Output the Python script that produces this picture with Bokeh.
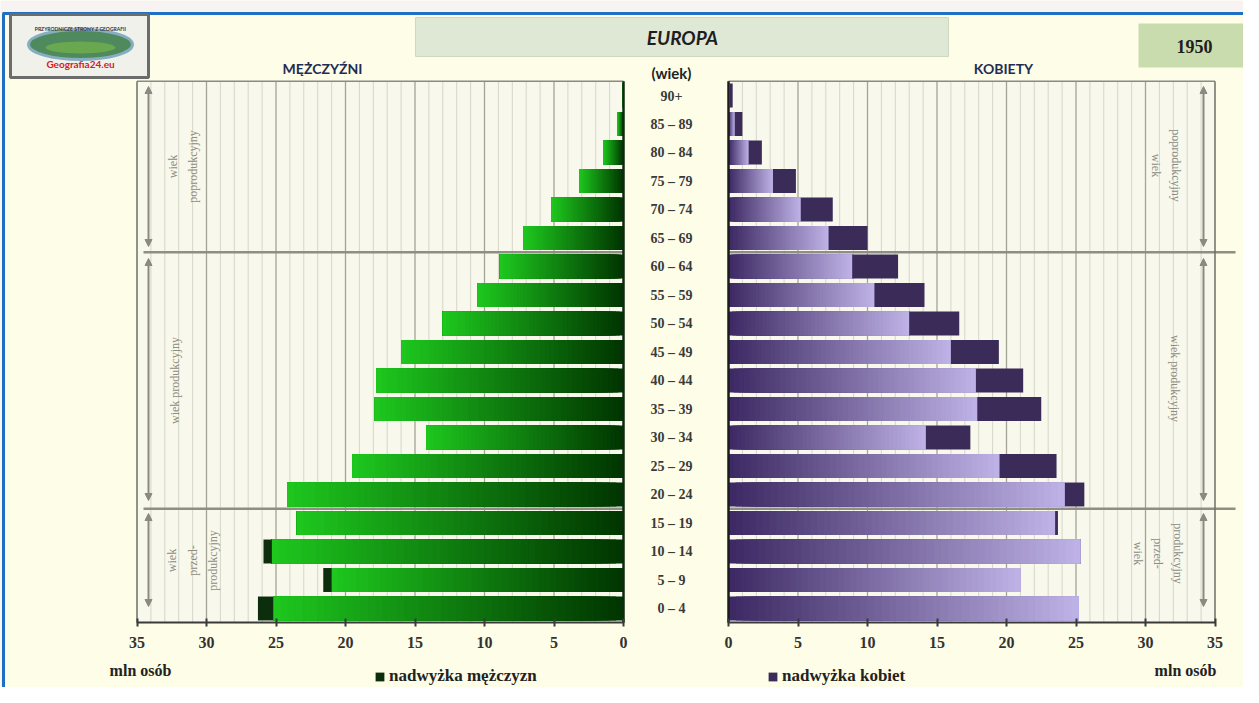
import math
from bokeh.plotting import figure
from bokeh.models import (ColumnDataSource, LinearAxis, FixedTicker, CustomJSTickFormatter,
                          Range1d, Arrow, NormalHead, Legend, LegendItem)
from bokeh.core.properties import value
from bokeh.embed import file_html
from bokeh.resources import INLINE

# ---------------- data ----------------
ages = ["0 – 4", "5 – 9", "10 – 14", "15 – 19", "20 – 24", "25 – 29", "30 – 34",
        "35 – 39", "40 – 44", "45 – 49", "50 – 54", "55 – 59", "60 – 64", "65 – 69",
        "70 – 74", "75 – 79", "80 – 84", "85 – 89", "90+"]
men = [26.3, 21.6, 25.9, 23.5, 24.2, 19.5, 14.2, 17.9, 17.8, 16.0, 13.0, 10.5, 8.9,
       7.2, 5.2, 3.2, 1.45, 0.45, 0.1]
women = [25.2, 21.0, 25.3, 23.7, 25.6, 23.6, 17.4, 22.5, 21.2, 19.45, 16.6, 14.1, 12.2,
         10.0, 7.5, 4.85, 2.4, 1.0, 0.3]
x_ticks = [0, 5, 10, 15, 20, 25, 30, 35]
x_max = 35

# ---------------- geometry helpers (picture pixels -> data) ----------------
W, H = 1243, 687
SC = 13.9          # px per million
CX = 675.5         # x of the centre between panels
G = 52.5 / SC      # half gap between panels in data units
RY = 28.5          # px per age row
CY = 608           # y of row 0 centre


def X(px):
    return (px - CX) / SC


def Y(py):
    return (CY - py) / RY


def L(v):
    return -(v + G)


def R(v):
    return v + G


p = figure(width=W, height=H, output_backend="svg", toolbar_location=None,
           x_range=Range1d(X(0), X(W)), y_range=Range1d(Y(H), Y(0)),
           x_axis_type=None, y_axis_type=None, min_border=0,
           outline_line_color=None, background_fill_color="#fdfde8",
           border_fill_color="#fdfde8")

# page header strip and blue border lines
p.quad(left=[X(0)], right=[X(W)], top=[Y(0)], bottom=[Y(12)],
       fill_color="#f8f3f3", line_color=None)
p.quad(left=[X(0)], right=[X(2)], top=[Y(0)], bottom=[Y(H)],
       fill_color="#f8f3f3", line_color=None)
p.segment(x0=[X(2), X(3)], y0=[Y(13), Y(13)], x1=[X(W), X(3)], y1=[Y(13), Y(H)],
          line_color="#1f6fc4", line_width=3)

# panel backgrounds
p.quad(left=[L(x_max), R(0)], right=[L(0), R(x_max)], bottom=-0.5, top=18.5,
       fill_color="#f8f8ec", line_color=None)

# grid lines
minor = [v for v in range(1, x_max) if v % 5]
major = [v for v in x_ticks if 0 < v < x_max]
mx = [L(v) for v in minor] + [R(v) for v in minor]
p.segment(x0=mx, y0=-0.5, x1=mx, y1=18.5, line_color="#d6d6c8", line_width=1)
Mx = [L(v) for v in major] + [R(v) for v in major]
p.segment(x0=Mx, y0=-0.5, x1=Mx, y1=18.5, line_color="#a3a396", line_width=1.3)

# group separator lines
p.segment(x0=[X(143), X(143), R(0), R(0)], y0=[12.5, 3.5, 12.5, 3.5],
          x1=[L(0), L(0), X(1235), X(1235)], y1=[12.5, 3.5, 12.5, 3.5],
          line_color="#8e8e84", line_width=2.5)


# ---------------- bars (gradient fills built in nested slices) ----------------
def mix(c0, c1, t):
    r = [round(a + (b - a) * t) for a, b in zip(c0, c1)]
    return "#%02x%02x%02x" % tuple(r)


G0, G1 = (0, 52, 0), (30, 200, 30)          # green: inner dark -> outer bright
P0, P1 = (60, 40, 98), (190, 178, 230)      # purple: inner dark -> outer light
N = 48
ml, mr, mc, wl, wr, wc, yy = [], [], [], [], [], [], []
for i, (m, w) in enumerate(zip(men, women)):
    base = min(m, w)
    for k in range(N):
        a = base * k / N
        t = (k + 0.5) / N
        ml.append(L(base)); mr.append(L(a)); mc.append(mix(G0, G1, t))
        wl.append(R(a)); wr.append(R(base)); wc.append(mix(P0, P1, t))
        yy.append(i)

BH = 0.84
p.hbar(y=yy, left=ml, right=mr, height=BH, fill_color=mc, line_color=None)
p.hbar(y=yy, left=wl, right=wr, height=BH, fill_color=wc, line_color=None)

mex = ColumnDataSource(dict(
    y=[i for i, (m, w) in enumerate(zip(men, women)) if m > w],
    left=[L(m) for m, w in zip(men, women) if m > w],
    right=[L(w) for m, w in zip(men, women) if m > w]))
wex = ColumnDataSource(dict(
    y=[i for i, (m, w) in enumerate(zip(men, women)) if w > m],
    left=[R(m) for m, w in zip(men, women) if w > m],
    right=[R(w) for m, w in zip(men, women) if w > m]))
r_mex = p.hbar(y="y", left="left", right="right", height=BH, source=mex,
               fill_color="#0c2e0c", line_color=None)
r_wex = p.hbar(y="y", left="left", right="right", height=BH, source=wex,
               fill_color="#3b2b58", line_color=None)

# panel borders
p.segment(x0=[L(x_max), R(0)], y0=[18.5, 18.5], x1=[L(0), R(x_max)], y1=[18.5, 18.5],
          line_color="#8a8a7e", line_width=1.5)
p.segment(x0=[L(x_max), R(x_max)], y0=[-0.5, -0.5], x1=[L(x_max), R(x_max)], y1=[18.5, 18.5],
          line_color="#6e6e64", line_width=1.5)
p.segment(x0=[L(0)], y0=[-0.5], x1=[L(0)], y1=[18.5], line_color="#0e2a0e", line_width=2.5)
p.segment(x0=[R(0)], y0=[-0.5], x1=[R(0)], y1=[18.5], line_color="#1c1c1c", line_width=2.5)

# ---------------- axes ----------------
fmt = CustomJSTickFormatter(code="return String(Math.round(Math.abs(tick) - %r));" % G)
for ticks, bounds in (([L(v) for v in x_ticks], (L(x_max), L(0))),
                      ([R(v) for v in x_ticks], (R(0), R(x_max)))):
    ax = LinearAxis(fixed_location=-0.5, bounds=bounds,
                    ticker=FixedTicker(ticks=ticks, minor_ticks=[]), formatter=fmt,
                    axis_line_color="#3a3a3a", axis_line_width=2,
                    major_tick_line_color="#3a3a3a", major_tick_line_width=2,
                    major_tick_in=4, major_tick_out=4, minor_tick_line_color=None,
                    major_label_standoff=10,
                    major_label_text_font="Liberation Serif",
                    major_label_text_font_style="bold",
                    major_label_text_font_size="16px",
                    major_label_text_color="#333333")
    p.add_layout(ax, "below")


# ---------------- texts ----------------
def txt(px, py, s, size, font="Lato", style="bold", color="#222222",
        align="center", angle=0.0):
    p.text(x=[X(px)], y=[Y(py)], text=[s], text_font=value(font),
           text_font_size=size, text_font_style=style, text_color=color,
           text_align=align, text_baseline="middle", angle=angle)


# age labels
p.text(x=[X(671)] * len(ages), y=list(range(len(ages))), text=ages,
       text_font=value("Liberation Serif"), text_font_size="14px",
       text_font_style="bold", text_color="#3a3a3a", text_align="center",
       text_baseline="middle")

# logo
p.quad(left=[X(10)], right=[X(148)], top=[Y(14)], bottom=[Y(77)],
       fill_color="#f1f1ec", line_color="#6c6c6c", line_width=3)
p.ellipse(x=[X(80)], y=[Y(44)], width=[104 / SC], height=[30 / RY],
          fill_color="#4f8a5e", line_color="#86aec0", line_width=3)
p.ellipse(x=[X(80)], y=[Y(47)], width=[70 / SC], height=[12 / RY],
          fill_color="#6aa84f", line_color=None)
txt(80, 28, "PRZYRODNICZE STRONY Z GEOGRAFII", "5px", font="Lato", color="#333333")
txt(80, 63, "Geografia24.eu", "10px", font="Lato", color="#d42020")

# title boxes
p.quad(left=[X(415)], right=[X(948)], top=[Y(17)], bottom=[Y(56)],
       fill_color="#dfe8d4", line_color="#cdd8c2", line_width=1)
txt(682, 37, "EUROPA", "19px", style="bold italic", color="#1e1e1e")
p.quad(left=[X(1138)], right=[X(1250)], top=[Y(23)], bottom=[Y(67)],
       fill_color="#c9dcad", line_color=None)
txt(1194, 46, "1950", "18px", font="Liberation Serif", color="#1e1e1e")

txt(322, 68, "MĘŻCZYŹNI", "14px", color="#1f2d55")
txt(1003, 68, "KOBIETY", "14px", color="#1f2d55")
txt(671, 72, "(wiek)", "15px", color="#222222")

txt(140, 670, "mln osób", "16px", font="Liberation Serif", color="#222222")
txt(1185, 670, "mln osób", "16px", font="Liberation Serif", color="#222222")

# group arrows
AC = "#8a8a80"
for xa in (148, 1203):
    for y0, y1 in ((86, 246), (258, 500), (513, 606)):
        p.add_layout(Arrow(x_start=X(xa), y_start=Y(y0), x_end=X(xa), y_end=Y(y1),
                           line_color=AC, line_width=2,
                           start=NormalHead(size=7, fill_color=AC, line_color=AC),
                           end=NormalHead(size=7, fill_color=AC, line_color=AC)))

GC = "#8c8c82"
GS = "12px"
up, down = math.pi / 2, -math.pi / 2
SF = "Liberation Serif"
# left side (reads bottom-to-top)
txt(172, 166, "wiek", GS, font=SF, style="normal", color=GC, angle=up)
txt(192, 166, "poprodukcyjny", GS, font=SF, style="normal", color=GC, angle=up)
txt(174, 380, "wiek produkcyjny", GS, font=SF, style="normal", color=GC, angle=up)
txt(171, 560, "wiek", GS, font=SF, style="normal", color=GC, angle=up)
txt(192, 560, "przed-", GS, font=SF, style="normal", color=GC, angle=up)
txt(212, 560, "produkcyjny", GS, font=SF, style="normal", color=GC, angle=up)
# right side (reads top-to-bottom)
txt(1155, 165, "wiek", GS, font=SF, style="normal", color=GC, angle=down)
txt(1175, 165, "poprodukcyjny", GS, font=SF, style="normal", color=GC, angle=down)
txt(1174, 378, "wiek produkcyjny", GS, font=SF, style="normal", color=GC, angle=down)
txt(1137, 553, "wiek", GS, font=SF, style="normal", color=GC, angle=down)
txt(1157, 553, "przed-", GS, font=SF, style="normal", color=GC, angle=down)
txt(1177, 553, "produkcyjny", GS, font=SF, style="normal", color=GC, angle=down)

# legends
for lab, rend, xloc in (("nadwyżka mężczyzn", r_mex, 374), ("nadwyżka kobiet", r_wex, 767)):
    leg = Legend(items=[LegendItem(label=lab, renderers=[rend])], location=(xloc, 1),
                 border_line_color=None, background_fill_alpha=0, padding=0, margin=0,
                 spacing=0, glyph_width=11, glyph_height=11, label_standoff=4,
                 label_height=20, label_text_font="Liberation Serif",
                 label_text_font_style="bold", label_text_font_size="17px",
                 label_text_color="#222222")
    p.add_layout(leg)

open("out.html", "w").write(file_html(p, INLINE))
